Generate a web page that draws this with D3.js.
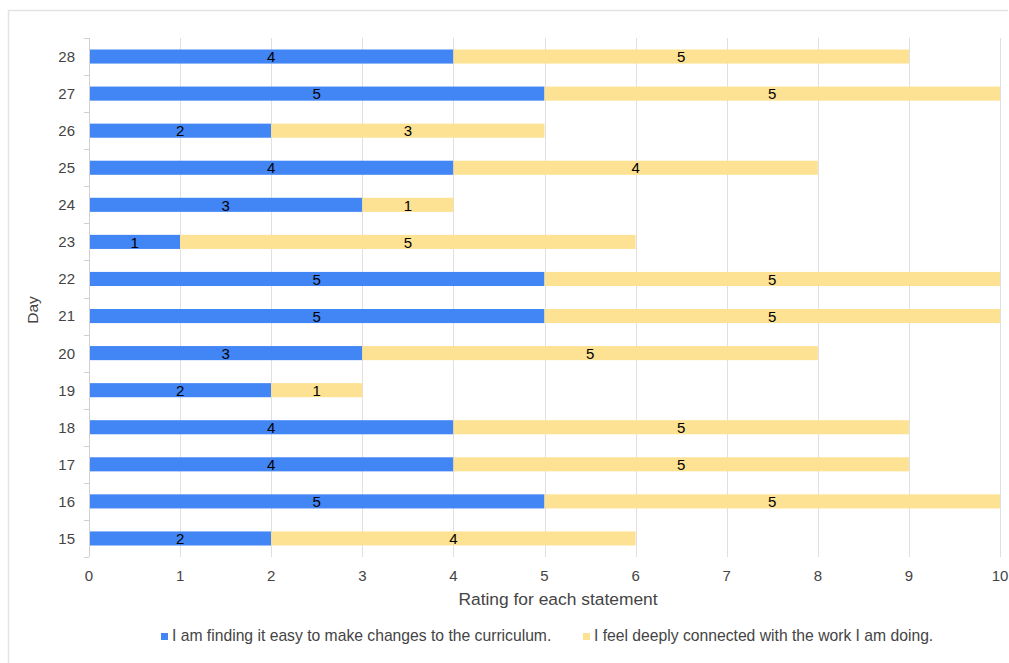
<!DOCTYPE html>
<html>
<head>
<meta charset="utf-8">
<script src="https://cdn.jsdelivr.net/npm/d3@7"></script>
<style>
  body { margin: 0; background: #fff; }
  text { font-family: "Liberation Sans", Arial, sans-serif; }
</style>
</head>
<body>
<div id="chart"></div>
<script>
// days, bottom to top as in the picture
var days = ["15", "16", "17", "18", "19", "20", "21", "22", "23", "24", "25", "26", "27", "28"];
var easyChanges = [2, 5, 4, 4, 2, 3, 5, 5, 1, 3, 4, 2, 5, 4];
var connected   = [4, 5, 5, 5, 1, 5, 5, 5, 5, 1, 4, 3, 5, 5];
var seriesNames = ["I am finding it easy to make changes to the curriculum.",
                   "I feel deeply connected with the work I am doing."];
var seriesColors = ["#4285f4", "#fde293"];
var xTicks = [0, 1, 2, 3, 4, 5, 6, 7, 8, 9, 10];

var width = 1009, height = 663;
var margin = {left: 89, right: 9, top: 38, bottom: 106};

var svg = d3.select("#chart").append("svg")
  .attr("width", width)
  .attr("height", height);

// outer frame
svg.append("path")
  .attr("d", "M8.5,663 V10.5 H1008")
  .attr("fill", "none")
  .attr("stroke", "#e3e3e3")
  .attr("stroke-width", 1.5);

var x = d3.scaleLinear().domain([0, 10]).range([margin.left, width - margin.right]);
var y = d3.scaleBand().domain(days.slice().reverse())
  .range([margin.top, height - margin.bottom])
  .paddingInner(0.62).paddingOuter(0.31);

// gridlines
svg.append("g").selectAll("line")
  .data(xTicks)
  .enter().append("line")
  .attr("x1", function(d) { return Math.round(x(d)) + 0.5; })
  .attr("x2", function(d) { return Math.round(x(d)) + 0.5; })
  .attr("y1", margin.top)
  .attr("y2", height - margin.bottom)
  .attr("stroke", "#e0e0e0");

// category ticks left of the axis
var step = (height - margin.bottom - margin.top) / days.length;
svg.append("g").selectAll("line")
  .data(d3.range(days.length + 1))
  .enter().append("line")
  .attr("x1", margin.left - 5)
  .attr("x2", margin.left)
  .attr("y1", function(i) { return Math.round(margin.top + i * step) + 0.5; })
  .attr("y2", function(i) { return Math.round(margin.top + i * step) + 0.5; })
  .attr("stroke", "#d0d0d0");

// stacked data
var rows = days.map(function(d, i) { return {day: d, a: easyChanges[i], b: connected[i]}; });
var stacked = d3.stack().keys(["a", "b"])(rows);

var layers = svg.append("g").selectAll("g")
  .data(stacked)
  .enter().append("g")
  .attr("fill", function(d, i) { return seriesColors[i]; });

layers.selectAll("rect")
  .data(function(d) { return d; })
  .enter().append("rect")
  .attr("x", function(d) { return x(d[0]); })
  .attr("y", function(d) { return y(d.data.day); })
  .attr("width", function(d) { return x(d[1]) - x(d[0]); })
  .attr("height", y.bandwidth());

// value labels
layers.selectAll("text")
  .data(function(d) { return d; })
  .enter().append("text")
  .attr("x", function(d) { return (x(d[0]) + x(d[1])) / 2; })
  .attr("y", function(d) { return y(d.data.day) + y.bandwidth() / 2; })
  .attr("dy", "0.38em")
  .attr("text-anchor", "middle")
  .attr("fill", "#000")
  .style("font-size", "15px")
  .text(function(d) { return d[1] - d[0]; });

// y axis line
svg.append("line")
  .attr("x1", margin.left + 0.5).attr("x2", margin.left + 0.5)
  .attr("y1", margin.top).attr("y2", height - margin.bottom)
  .attr("stroke", "#d0d0d0");

// y labels
svg.append("g").selectAll("text")
  .data(days)
  .enter().append("text")
  .attr("x", 75)
  .attr("y", function(d) { return y(d) + y.bandwidth() / 2; })
  .attr("dy", "0.36em")
  .attr("text-anchor", "end")
  .attr("fill", "#444")
  .style("font-size", "15px")
  .text(function(d) { return d; });

// x labels
svg.append("g").selectAll("text")
  .data(xTicks)
  .enter().append("text")
  .attr("x", function(d) { return x(d); })
  .attr("y", 581)
  .attr("text-anchor", "middle")
  .attr("fill", "#444")
  .style("font-size", "15px")
  .text(function(d) { return d; });

// axis titles
svg.append("text")
  .attr("x", 558).attr("y", 605)
  .attr("text-anchor", "middle")
  .attr("fill", "#444")
  .style("font-size", "17.4px")
  .text("Rating for each statement");

svg.append("text")
  .attr("transform", "translate(38,310) rotate(-90)")
  .attr("text-anchor", "middle")
  .attr("fill", "#444")
  .style("font-size", "15.5px")
  .text("Day");

// legend
var legendX = [161, 583];
var legend = svg.append("g").selectAll("g")
  .data(seriesNames)
  .enter().append("g")
  .attr("transform", function(d, i) { return "translate(" + legendX[i] + ",633)"; });

legend.append("rect")
  .attr("width", 7).attr("height", 7)
  .attr("fill", function(d, i) { return seriesColors[i]; });

legend.append("text")
  .attr("x", 11).attr("y", 8)
  .attr("fill", "#444")
  .style("font-size", "15.7px")
  .text(function(d) { return d; });
</script>
</body>
</html>
